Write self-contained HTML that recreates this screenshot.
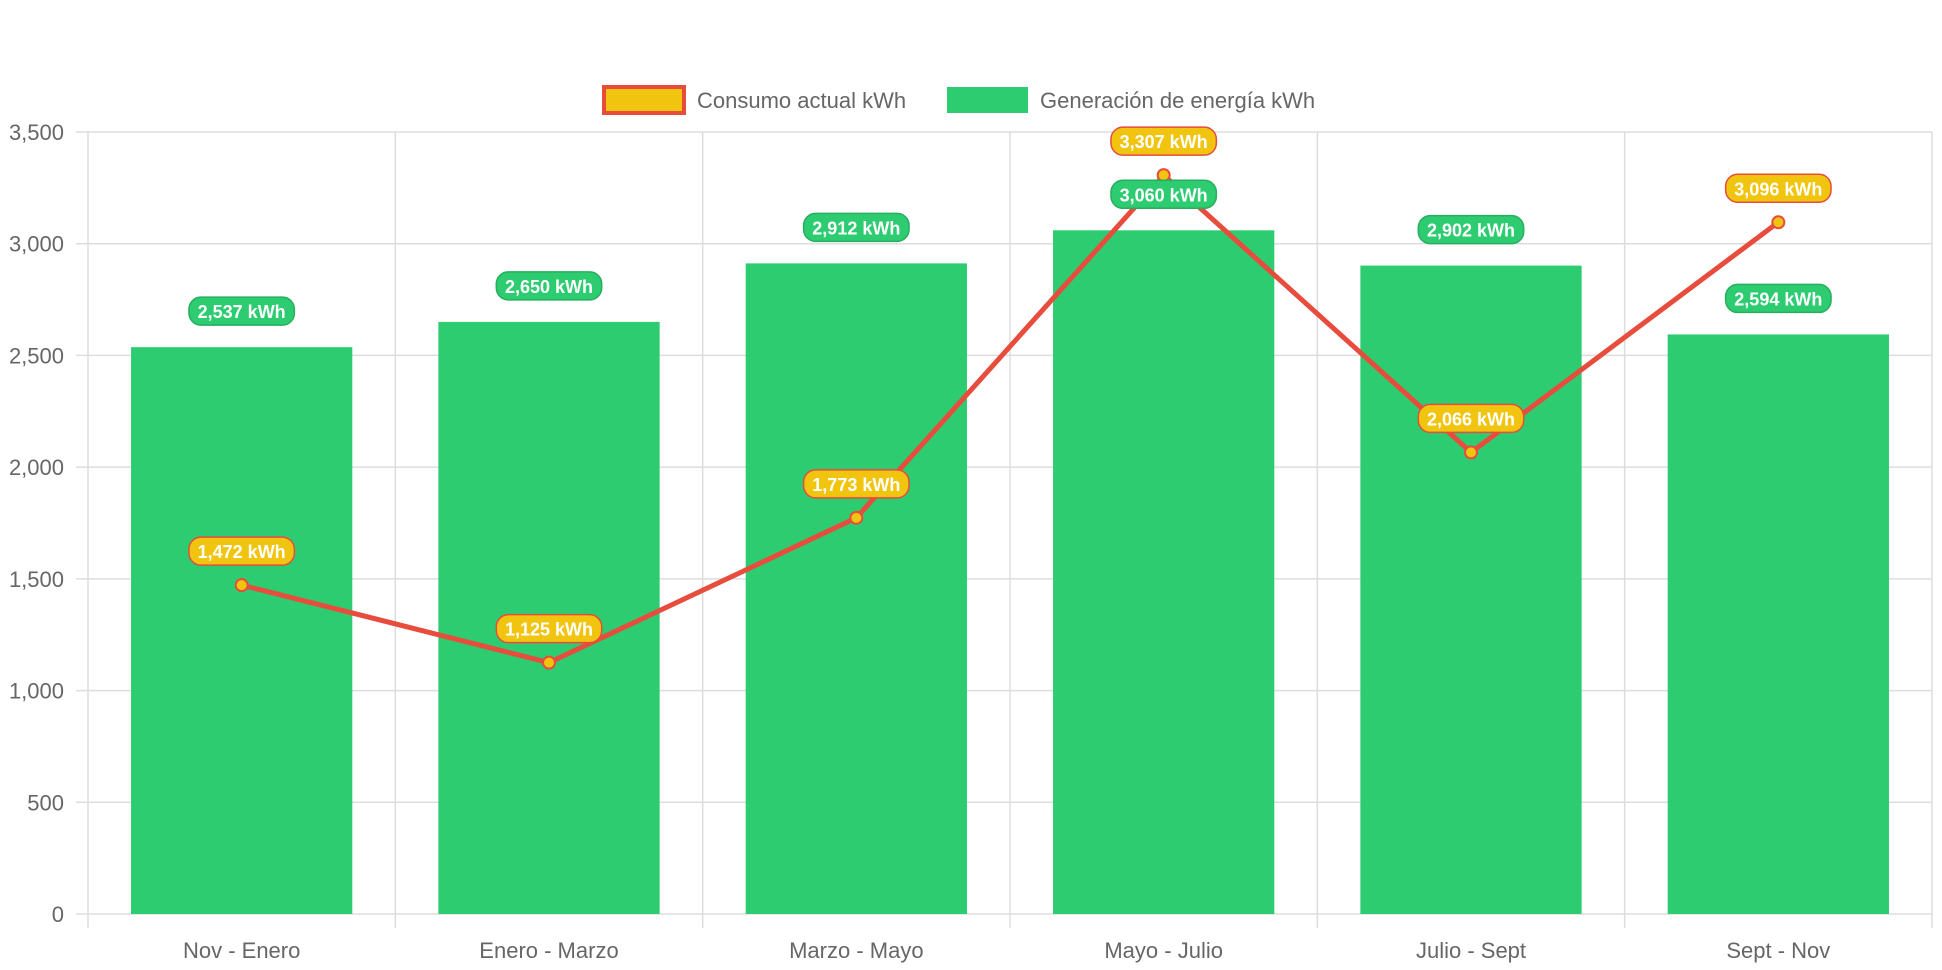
<!DOCTYPE html>
<html><head><meta charset="utf-8"><style>
html,body{margin:0;padding:0;background:#fff;}
svg{display:block;font-family:"Liberation Sans",Helvetica,Arial,sans-serif;}
</style></head><body>
<svg id="chart" width="1942" height="970">
<g>
 <g>
  <rect x="604" y="87" width="80" height="26" fill="#f1c40f" stroke="#e74c3c" stroke-width="4"/>
  <text x="697" y="108" font-size="22" fill="#666">Consumo actual kWh</text>
 </g>
 <g>
  <rect x="947" y="87" width="81" height="26" fill="#2ecc71"/>
  <text x="1040" y="108" font-size="22" fill="#666">Generación de energía kWh</text>
 </g>
</g>
<g id="grid"></g><g id="bars"></g><g id="line"></g><g id="labels"></g>
</svg>
<script>
const categories=["Nov - Enero","Enero - Marzo","Marzo - Mayo","Mayo - Julio","Julio - Sept","Sept - Nov"];
const generacion=[2537,2650,2912,3060,2902,2594];
const consumo=[1472,1125,1773,3307,2066,3096];
const yTicks=[0,500,1000,1500,2000,2500,3000,3500];
const NS="http://www.w3.org/2000/svg";
const L=88,R=1932,T=132,B=914,YMAX=3500;
const bw=(R-L)/categories.length;
const y=v=>B-(v/YMAX)*(B-T);
const xc=i=>L+bw*(i+0.5);
const fmt=v=>v.toLocaleString('en-US');
function mk(tag,attrs,parent,txt){const e=document.createElementNS(NS,tag);for(const k in attrs)e.setAttribute(k,attrs[k]);if(txt!==undefined)e.textContent=txt;parent.appendChild(e);return e;}
const grid=document.getElementById('grid'),bars=document.getElementById('bars'),line=document.getElementById('line'),labels=document.getElementById('labels');
yTicks.forEach(t=>{
 const g=mk('line',{x1:L-12,x2:R,y1:y(t),y2:y(t),stroke:'#ddd','stroke-width':1.5},grid);
 
 
 const tx=mk('text',{x:L-24,y:y(t)+8,'text-anchor':'end','font-size':22,fill:'#666'},grid,fmt(t));
 
 
});
for(let i=0;i<=categories.length;i++){
 const v=mk('line',{x1:L+bw*i,x2:L+bw*i,y1:T,y2:B+14,stroke:'#ddd','stroke-width':1.5},grid);
 
 
}
categories.forEach((c,i)=>{
 const t=mk('text',{x:xc(i),y:958,'text-anchor':'middle','font-size':22,fill:'#666'},grid,c);
 
 
});
function pill(cx,cy,text,fill,stroke,name){
 const g=mk('g',{},labels);
 
 
 const w=text.length*10.6+10;
 mk('rect',{x:cx-w/2,y:cy-14,width:w,height:28,rx:12,fill:fill,stroke:stroke,'stroke-width':1.5},g);
 mk('text',{x:cx,y:cy+7,'text-anchor':'middle','font-size':18,'font-weight':'bold',fill:'#fff'},g,text);
}
generacion.forEach((v,i)=>{
 const r=mk('rect',{x:xc(i)-bw*0.36,y:y(v),width:bw*0.72,height:B-y(v),fill:'#2ecc71'},bars);
 
 
 pill(xc(i),y(v)-36,fmt(v)+' kWh','#2ecc71','#27ae60','bar-value-label');
});
const pts=consumo.map((v,i)=>xc(i)+','+y(v)).join(' ');
const pl=mk('polyline',{points:pts,fill:'none',stroke:'#e74c3c','stroke-width':5,'stroke-linejoin':'round'},line);


consumo.forEach((v,i)=>{
 const c=mk('circle',{cx:xc(i),cy:y(v),r:6,fill:'#f1c40f',stroke:'#e74c3c','stroke-width':2},line);
 
 
 pill(xc(i),y(v)-34,fmt(v)+' kWh','#f1c40f','#e74c3c','point-value-label');
});
</script>
</body></html>
